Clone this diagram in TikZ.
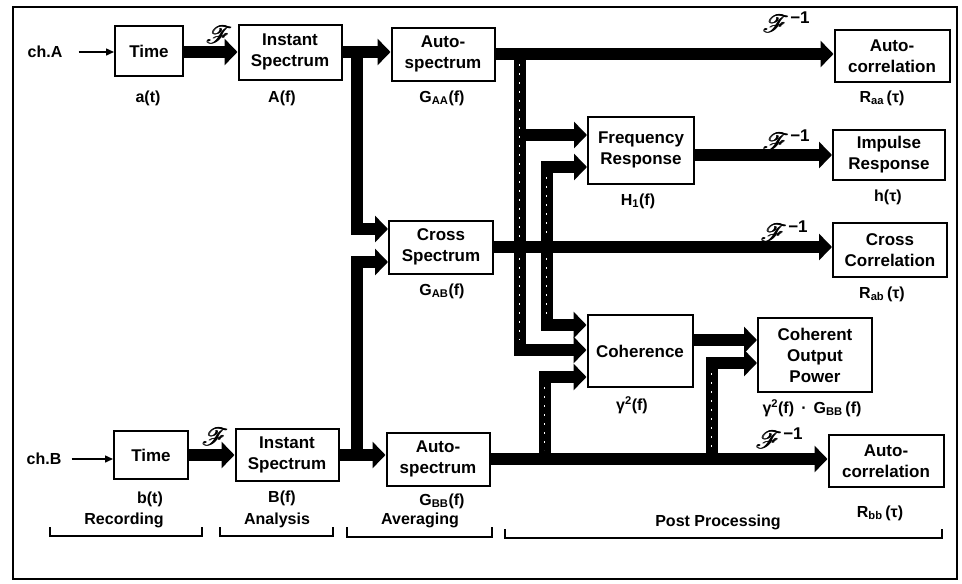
\documentclass[tikz,border=0pt]{standalone}
\usepackage{fontspec}
\setmainfont{Liberation Sans}
\usepackage{mathrsfs}
\usetikzlibrary{arrows.meta}
\newcommand\bxfont{\fontsize{17}{21}\selectfont\bfseries}
\newcommand\lbfont{\fontsize{16}{19}\selectfont\bfseries}
\newcommand\boldF{\makebox[0pt][l]{$\mathscr{F}$}\kern0.6pt\makebox[0pt][l]{$\mathscr{F}$}\kern0.6pt$\mathscr{F}$}
\newcommand\ftr{\boldF}
\newcommand\ftrinv{\boldF\kern1pt\raisebox{9pt}{\fontsize{17}{17}\selectfont\bfseries −1}}
\begin{document}
\begin{tikzpicture}[x=1pt,y=-1pt,
  box/.style={draw, line width=2pt, align=center, inner sep=0pt, font=\bxfont},
  lab/.style={font=\lbfont, inner sep=0pt},
  fat/.style={line width=12pt, line join=miter, -{Triangle[length=13pt,width=26pt]}},
  thinarr/.style={line width=1.5pt, -{Triangle[length=8pt,width=7pt]}},
  dots/.style={white, line width=1pt, dash pattern=on 2pt off 7pt},
  brk/.style={line width=1.5pt},
  ftlab/.style={font=\fontsize{26}{26}\selectfont, inner sep=0pt}]
\useasboundingbox (0,0) rectangle (962,584);
\draw[line width=1.8pt] (13,7) rectangle (957,579);

% boxes
\node[box, minimum width=68pt, minimum height=50pt] (tA) at (149,51) {Time};
\node[box, minimum width=103pt, minimum height=55pt] (iA) at (290,52) {Instant\\Spectrum};
\node[box, minimum width=103pt, minimum height=53pt] (gA) at (443,54) {Auto-\\spectrum};
\node[box, minimum width=104pt, minimum height=53pt] (gAB) at (441,247) {Cross\\Spectrum};
\node[box, minimum width=74pt, minimum height=48pt] (tB) at (151,455) {Time};
\node[box, minimum width=103pt, minimum height=52pt] (iB) at (287,455) {Instant\\Spectrum};
\node[box, minimum width=103pt, minimum height=53pt] (gB) at (438,459) {Auto-\\spectrum};
\node[box, minimum width=106pt, minimum height=67pt] (FR) at (641,150) {Frequency\\Response};
\node[box, minimum width=105pt, minimum height=72pt] (COH) at (640,351) {Coherence};
\node[box, minimum width=114pt, minimum height=74pt] (COP) at (815,355) {Coherent\\Output\\Power};
\node[box, minimum width=115pt, minimum height=52pt] (RAA) at (892,56) {Auto-\\correlation};
\node[box, minimum width=112pt, minimum height=50pt] (IR) at (889,155) {Impulse\\Response};
\node[box, minimum width=114pt, minimum height=54pt] (RAB) at (890,250) {Cross\\Correlation};
\node[box, minimum width=115pt, minimum height=52pt] (RBB) at (886,461) {Auto-\\correlation};

% labels under boxes
\node[lab] (l1) at (148,98) {a(t)};
\node[lab] (l2) at (282,98) {A(f)};
\node[lab] (l3) at (442,98) {G\textsubscript{AA}(f)};
\node[lab] (l4) at (442,291) {G\textsubscript{AB}(f)};
\node[lab] (l5) at (638,201) {H\textsubscript{1}(f)};
\node[lab] (l6) at (882,98) {R\textsubscript{aa}\,(τ)};
\node[lab] (l7) at (888,197) {h(τ)};
\node[lab] (l8) at (882,294) {R\textsubscript{ab}\,(τ)};
\node[lab] (l9) at (632,405) {γ\textsuperscript{2}(f)};
\node[lab] (l10) at (812,408) {γ\textsuperscript{2}(f) \,·\, G\textsubscript{BB}\,(f)};
\node[lab] (l11) at (880,513) {R\textsubscript{bb}\,(τ)};
\node[lab] (l12) at (150,499) {b(t)};
\node[lab] (l13) at (282,498) {B(f)};
\node[lab] (l14) at (442,501) {G\textsubscript{BB}(f)};

% inputs
\node[lab] (chA) at (45,52) {ch.A};
\node[lab] (chB) at (44,459) {ch.B};
\draw[thinarr] ([xshift=16pt]chA.east) -- (tA.west |- chA);
\draw[thinarr] ([xshift=10pt]chB.east) -- (tB.west |- chB);

% Fourier labels
\node[ftlab] (f1) at (219,35) {\ftr};
\node[ftlab] (f2) at (215,437) {\ftr};
\node[ftlab] (f3) at (786,22) {\ftrinv};
\node[ftlab] (f4) at (786,140) {\ftrinv};
\node[ftlab] (f5) at (784,231) {\ftrinv};
\node[ftlab] (f6) at (779,438) {\ftrinv};

% branch coordinates
\coordinate (jA) at (357,52);
\coordinate (jB0) at (357,455);
\coordinate (jG) at (520,54);
\coordinate (jX) at (547,247);
\coordinate (jB1) at (545,459);
\coordinate (jB2) at (712,459);
\path (gAB.west) ++(0,-18) coordinate (cs1);
\path (gAB.west) ++(0,15) coordinate (cs2);
\path (FR.west) ++(0,-15) coordinate (fr1);
\path (FR.west) ++(0,17) coordinate (fr2);
\path (COH.west) ++(0,-26) coordinate (coh1);
\path (COH.west) ++(0,-1) coordinate (coh2);
\path (COH.west) ++(0,26) coordinate (coh3);
\path (COP.west) ++(0,-15) coordinate (cop1);
\path (COP.west) ++(0,8) coordinate (cop2);
\path (COH.east) ++(0,-11) coordinate (cohout);

% vertical branches first
\draw[fat] (jA) |- (cs1);
\draw[fat] (jB0) |- (cs2);
\draw[fat] (jG) |- (fr1);
\draw[fat] (jG) |- (coh2);
\draw[fat] (jX) |- (fr2);
\draw[fat] (jX) |- (coh1);
\draw[fat] (jB1) |- (coh3);
\draw[fat] (jB2) |- (cop2);

% scan texture on vertical bars
\draw[dots] (519,64) -- (519,238);
\draw[dots] (519,258) -- (519,340);
\draw[dots] (546,177) -- (546,238);
\draw[dots] (546,258) -- (546,315);
\draw[dots] (544,387) -- (544,450);
\draw[dots] (711,373) -- (711,450);

% main horizontal flows
\draw[fat] (tA.east |- iA) -- (iA.west);
\draw[fat] (iA.east) -- (iA.east -| gA.west);
\draw[fat] (gA.east) -- (gA.east -| RAA.west);
\draw[fat] (gAB.east) -- (gAB.east -| RAB.west);
\draw[fat] (FR.east |- IR) -- (IR.west);
\draw[fat] (cohout) -- (cop1);
\draw[fat] (tB.east) -- (tB.east -| iB.west);
\draw[fat] (iB.east) -- (iB.east -| gB.west);
\draw[fat] (gB.east) -- (gB.east -| RBB.west);

% stage brackets
\draw[brk] (50,527) -- (50,536) -- (202,536) -- (202,527);
\draw[brk] (220,527) -- (220,536) -- (333,536) -- (333,527);
\draw[brk] (347,527) -- (347,537) -- (492,537) -- (492,527);
\draw[brk] (505,529) -- (505,538) -- (942,538) -- (942,529);
\node[lab] (s1) at (124,520) {Recording};
\node[lab] (s2) at (277,520) {Analysis};
\node[lab] (s3) at (420,520) {Averaging};
\node[lab] (s4) at (718,522) {Post Processing};
\end{tikzpicture}
\end{document}
